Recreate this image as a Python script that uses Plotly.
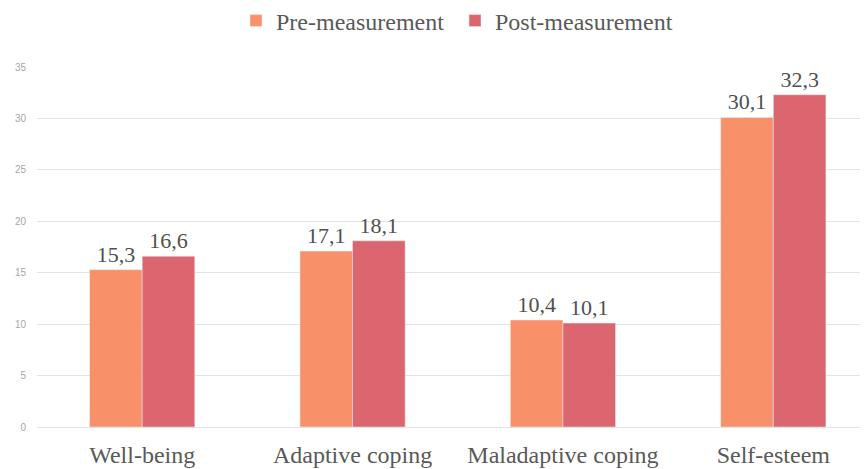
import plotly.graph_objects as go

categories = ["Well-being", "Adaptive coping", "Maladaptive coping", "Self-esteem"]
pre_values = [15.3, 17.1, 10.4, 30.1]
post_values = [16.6, 18.1, 10.1, 32.3]
y_ticks = [0, 5, 10, 15, 20, 25, 30, 35]

def fmt(v):
    return f"{v:.1f}".replace(".", ",")

fig = go.Figure()
fig.add_trace(go.Bar(
    name="Pre-measurement", x=categories, y=pre_values,
    marker_color="#F8916A", text=[fmt(v) for v in pre_values],
    textposition="outside", cliponaxis=False,
    textfont=dict(family="Liberation Serif", size=22, color="#505050"),
))
fig.add_trace(go.Bar(
    name="Post-measurement", x=categories, y=post_values,
    marker_color="#DB6670", text=[fmt(v) for v in post_values],
    textposition="outside", cliponaxis=False,
    textfont=dict(family="Liberation Serif", size=22, color="#505050"),
))

# page has an 8px body margin, so the figure is offset by (8, 8)
M_L, M_R, M_T, M_B = 29, 8, 59, 50
fig.update_layout(
    width=868, height=469,
    margin=dict(l=M_L, r=M_R, t=M_T, b=M_B, autoexpand=False),
    paper_bgcolor="white", plot_bgcolor="white",
    barmode="group", bargap=0.5, bargroupgap=0,
    showlegend=True,
    legend=dict(orientation="h", x=0.5, xanchor="center", yref="paper",
                yanchor="middle", entrywidth=174, entrywidthmode="pixels",
                font=dict(family="Liberation Serif", size=24, color="#595959"),
                traceorder="normal"),
    xaxis=dict(range=[-0.5, 3.45], showgrid=False, showline=False, ticks="",
               automargin=False, ticklabelstandoff=11,
               tickfont=dict(family="Liberation Serif", size=24, color="#595959")),
    yaxis=dict(range=[0, 35], tickvals=y_ticks, showgrid=True, gridcolor="#E3E3E3",
               gridwidth=1, zeroline=True, zerolinecolor="#E3E3E3", zerolinewidth=1,
               ticks="", ticklabelstandoff=10, automargin=False,
               tickfont=dict(family="Liberation Sans", size=10, color="#A6A6A6")),
)
plot_h = 469 - M_T - M_B
fig.update_layout(legend_y=1 + (M_T - 13) / plot_h,
                  legend_x=(455 - 8 - M_L) / (868 - M_L - M_R))
fig.write_html("out.html")
